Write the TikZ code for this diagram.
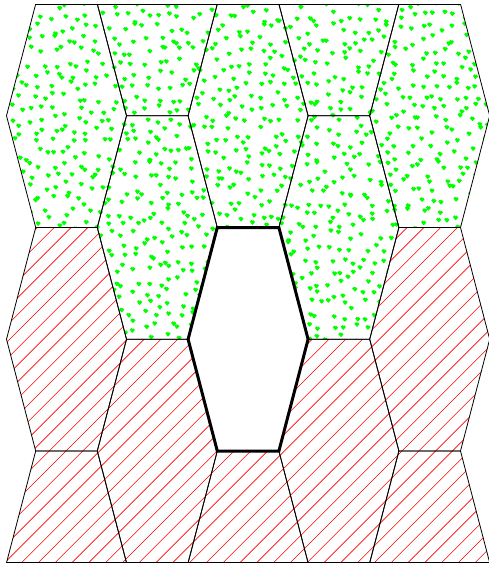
\documentclass[tikz,border=0pt]{standalone}
\usetikzlibrary{calc}
\tikzset{
  cellline/.style={black, line width=0.8pt},
  thickcell/.style={black, line width=3pt, line join=miter},
  hatchline/.style={red, line width=0.6pt},
  dotfill/.style={fill=green}
}
\def\hw{60}
\def\he{30.8}
\def\hh{111.75}
\begin{document}
\begin{tikzpicture}[x=1pt,y=-1pt]
\fill[white] (0,0) rectangle (489,566);
\useasboundingbox (0,0) rectangle (489,566);
% green region with jittered dots
\begin{scope}
  \clip (0,4) rectangle (489,562.75);
  \clip \foreach \cx/\cy in {66.5/115.75,157.3/4,157.3/227.5,248.1/115.75,338.9/4,338.9/227.5,429.7/115.75}
    { (\cx-\hw,\cy) -- (\cx-\he,\cy-\hh) -- (\cx+\he,\cy-\hh) -- (\cx+\hw,\cy) -- (\cx+\he,\cy+\hh) -- (\cx-\he,\cy+\hh) -- cycle };
  \pgfmathsetseed{2718}
  \foreach \gi in {0,...,42}{
    \foreach \gj in {0,...,29}{
      \pgfmathsetmacro\dx{2+11.5*\gi+11*rnd}
      \pgfmathsetmacro\dy{11.5*\gj+11*rand*0.5+5}
      \fill[dotfill] (\dx,\dy) circle (1.8pt) (\dx+1.7,\dy+0.3) circle (1.8pt) (\dx+0.9,\dy+1.5) circle (1.6pt);
    }
  }
\end{scope}
% red hatched region
\begin{scope}
  \clip (0,4) rectangle (489,562.75);
  \clip \foreach \cx/\cy in {66.5/339.25,66.5/562.75,157.3/451,248.1/562.75,338.9/451,429.7/339.25,429.7/562.75}
    { (\cx-\hw,\cy) -- (\cx-\he,\cy-\hh) -- (\cx+\he,\cy-\hh) -- (\cx+\hw,\cy) -- (\cx+\he,\cy+\hh) -- (\cx-\he,\cy+\hh) -- cycle };
  \foreach \k in {0,...,64}{
    \draw[hatchline] (13+16.8*\k,0) -- (13+16.8*\k-620,620);
  }
\end{scope}
% cell outlines
\begin{scope}
  \clip (0,4) rectangle (489,562.75);
  \foreach \cx/\cy in {66.5/115.75,66.5/339.25,66.5/562.75,
                       157.3/4,157.3/227.5,157.3/451,
                       248.1/115.75,248.1/562.75,
                       338.9/4,338.9/227.5,338.9/451,
                       429.7/115.75,429.7/339.25,429.7/562.75}
    \draw[cellline] (\cx-\hw,\cy) -- (\cx-\he,\cy-\hh) -- (\cx+\he,\cy-\hh) -- (\cx+\hw,\cy) -- (\cx+\he,\cy+\hh) -- (\cx-\he,\cy+\hh) -- cycle;
\end{scope}
\coordinate (topL) at (66.5-\he,4);
\coordinate (topR) at (429.7+\he,4);
\coordinate (botL) at (66.5-\hw,562.75);
\coordinate (botR) at (429.7+\hw,562.75);
\draw[cellline] (topL) -- (topR);
\draw[cellline] (botL) -- (botR);
% central white cell
\def\cx{248.1}\def\cy{339.25}
\draw[thickcell, fill=white] (\cx-\hw,\cy) -- (\cx-\he,\cy-\hh) -- (\cx+\he,\cy-\hh) -- (\cx+\hw,\cy) -- (\cx+\he,\cy+\hh) -- (\cx-\he,\cy+\hh) -- cycle;
\end{tikzpicture}
\end{document}
